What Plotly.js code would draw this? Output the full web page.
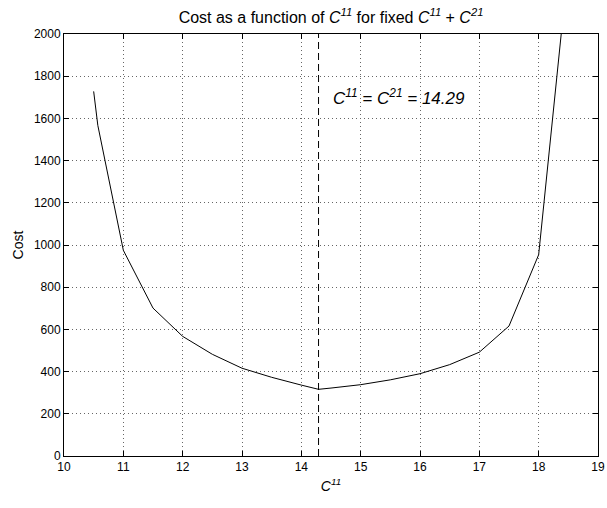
<!DOCTYPE html>
<html>
<head>
<meta charset="utf-8">
<script src="https://cdn.plot.ly/plotly-3.0.1.min.js"></script>
<style>html,body{margin:0;padding:0;background:#fff;}#chart{width:607px;height:508px;}</style>
</head>
<body>
<div id="chart"></div>
<script>
// Data
const c11 = [10.5, 10.57, 11, 11.5, 12, 12.5, 13, 13.5, 14, 14.29, 14.5, 15, 15.5, 16, 16.5, 17, 17.5, 18, 18.5];
const cost = [1728, 1567, 975, 701, 567, 482, 416, 373, 336, 316, 322, 338, 361, 390, 433, 492, 616, 954, 2330];
const optimum = 14.29;
const yRange = [0, 2000];
const xRange = [10, 19];
const xTicks = [10, 11, 12, 13, 14, 15, 16, 17, 18, 19];
const yTicks = [0, 200, 400, 600, 800, 1000, 1200, 1400, 1600, 1800, 2000];
const annotationText = '<i>C<sup>11</sup> = C<sup>21</sup> = 14.29</i>';
const annotationPos = {x: 14.5, y: 1700};

const font = 'Liberation Sans, Arial, Helvetica, sans-serif';

const traces = [
  {x: c11, y: cost, mode: 'lines', line: {color: '#000', width: 1}, hoverinfo: 'skip'},
  {x: [optimum, optimum], y: yRange, mode: 'lines', line: {color: '#000', width: 1, dash: '7px,4px'}, hoverinfo: 'skip'}
];

const axisCommon = {
  showline: true, linecolor: '#000', linewidth: 1, mirror: 'allticks',
  ticks: 'inside', ticklen: 5, tickcolor: '#000', tickwidth: 1,
  showgrid: true, gridcolor: '#666', gridwidth: 1, griddash: '1px,3px',
  zeroline: false, tickfont: {family: font, size: 12, color: '#000'},
  fixedrange: true
};

const layout = {
  width: 607, height: 508,
  margin: {l: 64, r: 9, t: 34, b: 52},
  paper_bgcolor: '#fff', plot_bgcolor: '#fff',
  showlegend: false,
  font: {family: font, color: '#000'},
  title: {
    text: 'Cost as a function of <i>C<sup>11</sup></i> for fixed <i>C<sup>11</sup></i> + <i>C<sup>21</sup></i>',
    font: {family: font, size: 16, color: '#000'},
    x: 0.5, xref: 'paper', xanchor: 'center', y: 0.966, yanchor: 'middle'
  },
  xaxis: Object.assign({}, axisCommon, {
    range: xRange, tickvals: xTicks, ticktext: xTicks.map(String),
    title: {text: '<i>C<sup>11</sup></i>', font: {family: font, size: 14, color: '#000'}, standoff: 7}
  }),
  yaxis: Object.assign({}, axisCommon, {
    range: yRange, tickvals: yTicks, ticktext: yTicks.map(String),
    title: {text: 'Cost', font: {family: font, size: 14, color: '#000'}, standoff: 6}
  }),
  annotations: [{
    x: annotationPos.x, y: annotationPos.y, xref: 'x', yref: 'y',
    text: annotationText, showarrow: false, xanchor: 'left', yanchor: 'middle',
    font: {family: font, size: 17, color: '#000'}
  }]
};

Plotly.newPlot('chart', traces, layout, {staticPlot: true, displayModeBar: false});
</script>
</body>
</html>
